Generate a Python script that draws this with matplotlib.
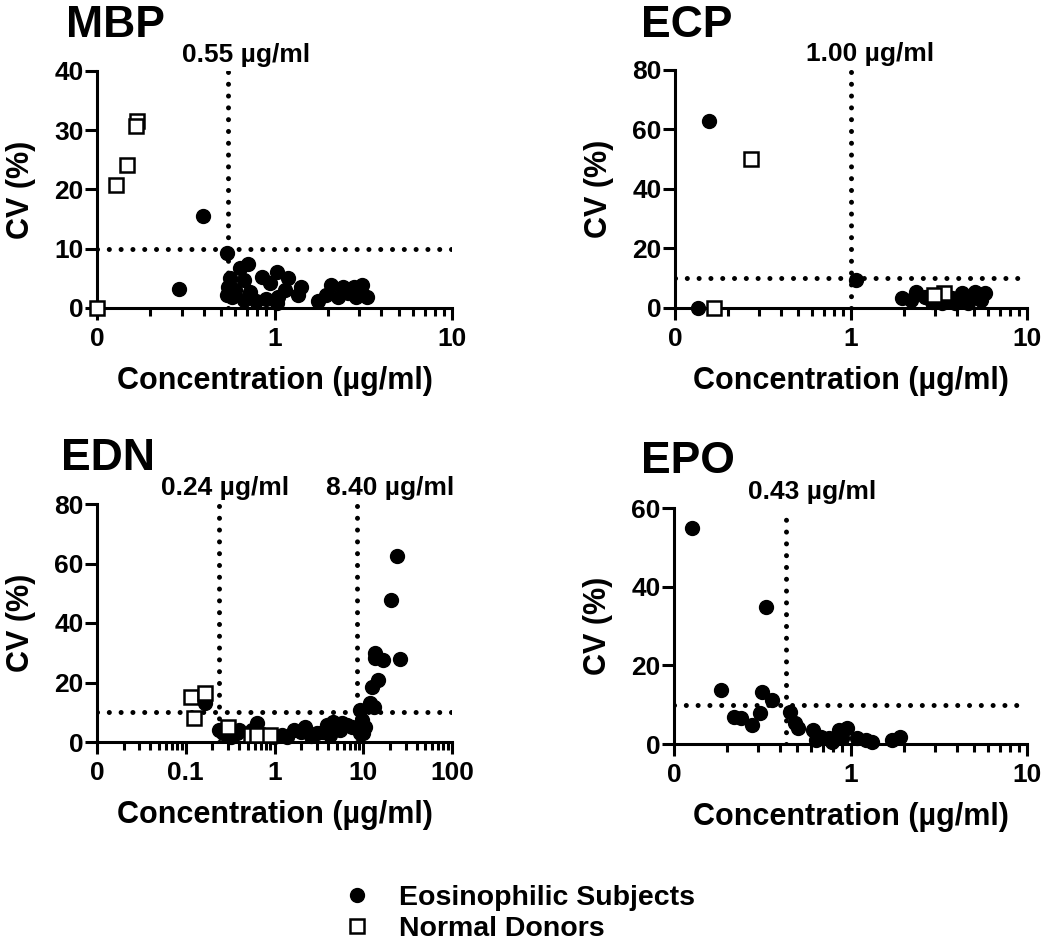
import matplotlib
matplotlib.use('Agg')
import matplotlib.pyplot as plt
from matplotlib.ticker import LogLocator, NullFormatter, FixedLocator, FixedFormatter

plt.rcParams['font.family'] = ['Liberation Sans', 'DejaVu Sans']
plt.rcParams['font.weight'] = 'bold'

# MBP
mbp_eos_x = [0.397, 0.29, 0.54, 0.713, 0.64, 0.56, 0.55, 0.54, 0.60, 0.67, 0.73, 0.67, 0.85, 1.03,
             0.94, 0.90, 1.05, 1.19, 1.14, 1.03, 1.41, 1.36, 1.75, 2.08, 1.95, 2.42, 2.27, 2.81,
             3.13, 3.34, 2.87, 2.58, 0.575, 0.79]
mbp_eos_y = [15.5, 3.2, 9.2, 7.5, 6.7, 5.0, 3.6, 2.2, 3.0, 4.7, 2.7, 1.3, 5.3, 6.1,
             4.2, 1.6, 1.9, 5.0, 3.0, 0.8, 3.6, 2.2, 1.1, 3.9, 2.2, 3.6, 1.9, 3.6,
             3.9, 1.9, 1.9, 2.5, 1.9, 1.1]
mbp_nd_x = [0.128, 0.147, 0.167, 0.165, 0.1]
mbp_nd_y = [20.8, 24.1, 31.6, 30.8, 0.0]

# ECP
ecp_eos_x = [0.157, 0.135, 1.07, 1.96, 2.33, 2.18, 2.65, 2.89, 3.74, 4.25, 4.64, 5.06, 5.75,
             3.9, 3.29, 4.64, 5.5, 3.15]
ecp_eos_y = [63.0, 0.0, 9.4, 3.3, 5.5, 2.7, 3.8, 2.1, 3.3, 4.9, 3.8, 5.5, 4.9,
             1.6, 1.6, 1.6, 2.7, 3.3]
ecp_nd_x = [0.27, 0.166, 3.36, 2.95]
ecp_nd_y = [50.1, 0.0, 4.9, 4.4]

# EDN
edn_eos_x = [0.165, 0.237, 0.26, 0.32, 0.38, 0.40, 0.56, 0.64, 0.98, 1.2, 1.39, 1.65, 2.0, 2.23,
             2.6, 3.0, 3.5, 3.9, 4.2, 4.6, 5.5, 5.7, 6.6, 7.5, 9.3, 9.3, 9.6, 10.6, 10.0,
             12.0, 13.1, 12.6, 14.8, 13.4, 13.6, 16.9, 25.7, 20.5, 23.7]
edn_eos_y = [13.0, 4.0, 2.9, 1.8, 2.9, 4.0, 4.0, 6.3, 1.8, 2.5, 1.8, 4.0, 3.5, 5.1,
             2.0, 2.9, 3.5, 5.7, 2.5, 6.8, 4.0, 6.3, 5.7, 5.1, 2.9, 10.8, 7.4, 5.1, 3.0,
             13.0, 11.9, 18.6, 20.8, 28.1, 29.8, 27.6, 27.8, 47.7, 62.5]
edn_nd_x = [0.116, 0.163, 0.124, 0.30, 0.54, 0.64, 0.9]
edn_nd_y = [15.2, 16.6, 8.0, 5.0, 2.5, 2.5, 2.5]

# EPO
epo_eos_x = [0.126, 0.33, 0.185, 0.316, 0.358, 0.219, 0.239, 0.277, 0.309, 0.454, 0.485, 0.506,
             0.614, 0.683, 0.76, 0.865, 0.96, 0.90, 1.09, 1.22, 1.33, 1.72, 1.91, 0.64, 0.79]
epo_eos_y = [54.8, 34.8, 13.7, 13.3, 11.2, 6.9, 6.5, 4.8, 7.8, 8.2, 5.3, 4.0,
             3.6, 1.9, 1.5, 3.6, 4.0, 1.5, 1.5, 1.0, 0.6, 1.0, 1.9, 1.0, 0.6]
epo_nd_x = []
epo_nd_y = []

names = ['MBP', 'ECP', 'EDN', 'EPO']
thresholds = [[0.55], [1.00], [0.24, 8.40], [0.43]]
thr_labels = [['0.55 µg/ml'], ['1.00 µg/ml'], ['0.24 µg/ml', '8.40 µg/ml'], ['0.43 µg/ml']]
ymax = [40, 80, 80, 60]
ystep = [10, 20, 20, 20]

fig = plt.figure(figsize=(10.5, 9.43), dpi=100)
W, H = 1050, 943

# axes boxes in pixels: left, top, right, bottom
boxes = [(97, 71, 452, 308), (675, 70, 1027, 308), (97, 504, 452, 742), (674, 508, 1027, 744)]
title_pos = [(66, 37), (641, 37), (61, 470), (641, 473)]
thr_offsets = [[-46], [-45], [-58, -31], [-38]]

data = [(mbp_eos_x, mbp_eos_y, mbp_nd_x, mbp_nd_y),
        (ecp_eos_x, ecp_eos_y, ecp_nd_x, ecp_nd_y),
        (edn_eos_x, edn_eos_y, edn_nd_x, edn_nd_y),
        (epo_eos_x, epo_eos_y, epo_nd_x, epo_nd_y)]

axes = []
for i in range(4):
    l, t, r, b = boxes[i]
    ax = fig.add_axes([l / W, 1 - b / H, (r - l) / W, (b - t) / H])
    axes.append(ax)
    ex, ey, nx, ny = data[i]

    ax.set_xscale('log')
    if names[i] == 'EDN':
        ax.set_xlim(0.01, 100)
        ax.xaxis.set_major_locator(FixedLocator([0.01, 0.1, 1, 10, 100]))
        ax.xaxis.set_major_formatter(FixedFormatter(['0', '0.1', '1', '10', '100']))
    else:
        ax.set_xlim(0.1, 10)
        ax.xaxis.set_major_locator(FixedLocator([0.1, 1, 10]))
        ax.xaxis.set_major_formatter(FixedFormatter(['0', '1', '10']))
    ax.xaxis.set_minor_locator(LogLocator(base=10, subs=range(2, 10)))
    ax.xaxis.set_minor_formatter(NullFormatter())
    ax.set_ylim(0, ymax[i])
    ax.set_yticks(range(0, ymax[i] + 1, ystep[i]))

    for s in ['top', 'right']:
        ax.spines[s].set_visible(False)
    for s in ['left', 'bottom']:
        ax.spines[s].set_linewidth(2.2)
    ax.tick_params(which='major', length=8.5, width=2.2, labelsize=19, pad=5)
    ax.tick_params(axis='y', which='major', pad=1)
    ax.tick_params(which='minor', length=5.5, width=2.2)

    dot = dict(color='black', lw=3.6, linestyle=(0, (0.01, 2.35)), dash_capstyle='round', zorder=2)
    ax.axhline(10, **dot)
    for j, thr in enumerate(thresholds[i]):
        ax.axvline(thr, **dot)
        ax.annotate(thr_labels[i][j], xy=(thr, 1), xycoords=('data', 'axes fraction'),
                    xytext=(thr_offsets[i][j], 9), textcoords='offset pixels',
                    ha='left', va='baseline', fontsize=19, fontweight='bold')

    ax.plot(ex, ey, 'o', color='black', ms=10, mec='black', clip_on=False, zorder=4,
            label='Eosinophilic Subjects')
    ax.plot(nx, ny, 's', color='white', ms=10, mec='black', mew=1.8, clip_on=False, zorder=5,
            label='Normal Donors')

    ax.set_xlabel('Concentration (µg/ml)', fontsize=22, fontweight='bold', labelpad=11)
    ax.set_ylabel('CV (%)', fontsize=22, fontweight='bold', labelpad=13)

    fig.text(title_pos[i][0] / W, 1 - title_pos[i][1] / H, names[i], fontsize=32,
             fontweight='bold', ha='left', va='baseline')

h, lab = axes[0].get_legend_handles_labels()
fig.legend(h, lab, loc='upper left', bbox_to_anchor=(326 / W, 1 - 871 / H), frameon=False,
           fontsize=20.5, handletextpad=0.85, labelspacing=0.15, handlelength=1.2, borderpad=0)

fig.savefig('out.png', dpi=100)
